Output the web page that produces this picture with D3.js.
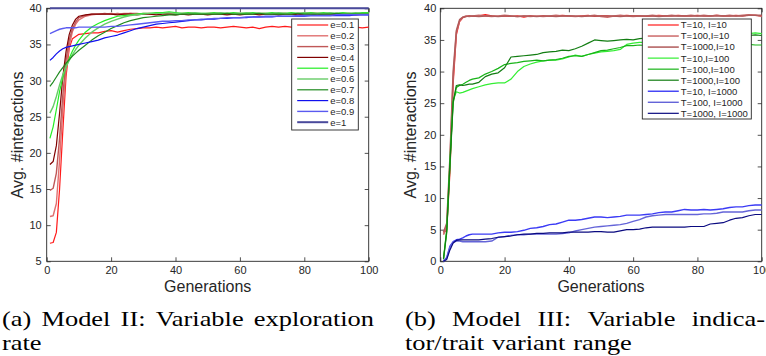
<!DOCTYPE html>
<html>
<head>
<meta charset="utf-8">
<script src="https://cdn.jsdelivr.net/npm/d3@7"></script>
<style>
  body { margin: 0; background: #fff; }
  svg { display: block; }
  .axis text, .lbl, .leg text { font-family: "Liberation Sans", Arial, sans-serif; fill: #262626; }
  .cap { font-family: "Liberation Serif", "Times New Roman", serif; fill: #000; }
</style>
</head>
<body>
<svg id="fig" width="766" height="356"></svg>
<script>
// generations sampled for both panels
const generations = [1,2,3,4,5,6,7,8,9,10,12,14,16,18,20,22,24,26,28,30,32,34,36,38,40,42,44,46,48,50,
  52,54,56,58,60,62,64,66,68,70,72,74,76,78,80,82,84,86,88,90,92,94,96,98,100];

// ---- panel (a): exploration rate e ----
const eLabels = ["e=0.1","e=0.2","e=0.3","e=0.4","e=0.5","e=0.6","e=0.7","e=0.8","e=0.9","e=1"];
const eColors = ["#ff1a1a","#e07070","#c05858","#800000","#22ee22","#66cc66","#1f8a1f","#1010ee","#5a5af0","#4a4a9c"];

const e01 = [7.5,7.6,9.0,15.0,23.0,30.5,34.5,35.8,36.1,36.4, 36.5,36.6,36.6,36.8,36.9,36.7,36.9,37.1,37.2,37.3,
  37.3,37.4,37.3,37.4,37.5,37.3,37.4,37.4,37.3,37.4, 37.4,37.3,37.4,37.5,37.4,37.3,37.4,37.2,37.4,37.5,
  37.4,37.5,37.4,37.3,37.4,37.4,37.5,37.6,37.4,37.3, 37.4,37.5,37.4,37.3,37.4];
const e02 = [11.2,11.3,13.0,19.0,26.0,31.5,34.8,36.8,37.8,38.4, 38.9,39.1,39.2,39.2,39.3,39.2,39.3,39.3,39.2,39.3,
  39.3,39.2,39.3,39.3,39.2,39.3,39.3,39.3,39.2,39.3, 39.3,39.3,39.2,39.3,39.3,39.2,39.3,39.3,39.3,39.2,
  39.3,39.3,39.2,39.3,39.3,39.4,39.3,39.3,39.2,39.3, 39.3,39.3,39.2,39.3,39.3];
const e03 = [14.8,15.1,17.2,22.0,28.0,32.8,35.6,37.2,38.1,38.7, 39.0,39.2,39.2,39.3,39.2,39.3,39.2,39.3,39.3,39.2,
  39.2,39.3,39.3,39.2,39.3,39.2,39.3,39.3,39.2,39.2, 39.3,39.2,39.3,39.2,39.2,39.3,39.3,39.2,39.2,39.3,
  39.2,39.3,39.2,39.2,39.3,39.2,39.3,39.2,39.3,39.2, 39.2,39.3,39.2,39.2,39.3];
const e04 = [18.4,18.8,21.0,25.5,30.5,34.0,36.4,37.7,38.5,38.9, 39.1,39.2,39.2,39.2,39.2,39.1,39.2,39.2,39.1,39.2,
  39.2,39.1,39.2,39.2,39.1,39.2,39.1,39.2,39.2,39.1, 39.2,39.2,39.1,39.2,39.1,39.2,39.2,39.1,39.2,39.2,
  39.1,39.2,39.2,39.1,39.2,39.2,39.1,39.2,39.2,39.1, 39.2,39.2,39.1,39.2,39.2];
const e05 = [22.0,23.6,26.0,28.5,30.4,31.9,33.1,34.1,34.9,35.6, 36.7,37.4,37.9,38.3,38.6,38.9,39.0,39.1,39.2,39.3,
  39.3,39.4,39.4,39.5,39.4,39.3,39.4,39.3,39.3,39.3, 39.4,39.3,39.3,39.4,39.3,39.3,39.4,39.3,39.3,39.4,
  39.3,39.3,39.4,39.3,39.3,39.4,39.3,39.4,39.3,39.3, 39.4,39.3,39.3,39.4,39.4];
const e06 = [25.5,26.4,27.8,29.4,30.8,31.9,32.8,33.6,34.3,34.9, 35.9,36.7,37.3,37.8,38.2,38.5,38.8,39.0,39.1,39.2,
  39.3,39.3,39.3,39.4,39.3,39.3,39.3,39.4,39.3,39.3, 39.3,39.4,39.3,39.3,39.3,39.4,39.3,39.3,39.3,39.3,
  39.4,39.3,39.3,39.3,39.4,39.3,39.3,39.3,39.4,39.3, 39.3,39.3,39.4,39.3,39.3];
const e07 = [29.2,29.8,30.5,31.2,31.8,32.4,32.9,33.4,33.8,34.2, 34.9,35.6,36.2,36.7,37.2,37.6,38.0,38.3,38.5,38.7,
  38.8,38.9,39.0,39.1,39.1,39.2,39.2,39.2,39.2,39.2, 39.2,39.2,39.3,39.2,39.2,39.2,39.2,39.3,39.2,39.2,
  39.2,39.2,39.2,39.3,39.2,39.2,39.2,39.2,39.2,39.3, 39.2,39.2,39.2,39.2,39.2];
const e08 = [32.8,33.2,33.7,34.1,34.4,34.6,34.7,34.8,34.9,35.0, 35.2,35.4,35.6,35.9,36.1,36.3,36.6,36.9,37.2,37.4,
  37.6,37.8,37.9,38.0,38.1,38.2,38.3,38.4,38.4,38.5, 38.5,38.6,38.6,38.7,38.7,38.7,38.8,38.8,38.8,38.8,
  38.9,38.9,38.9,38.9,38.9,39.0,39.0,39.0,39.0,39.0, 39.0,39.0,39.1,39.1,39.1];
const e09 = [36.5,36.7,36.9,37.1,37.2,37.3,37.3,37.3,37.3,37.4, 37.4,37.4,37.4,37.4,37.5,37.5,37.6,37.7,37.8,37.9,
  38.0,38.1,38.2,38.2,38.3,38.3,38.4,38.4,38.5,38.5, 38.6,38.6,38.7,38.7,38.7,38.8,38.8,38.8,38.9,38.9,
  38.9,38.9,38.9,39.0,39.0,39.0,39.0,39.0,39.0,39.1, 39.1,39.1,39.1,39.1,39.1];
const e10 = [40,40,40,40,40,40,40,40,40,40, 40,40,40,40,40,40,40,40,40,40, 40,40,40,40,40,40,40,40,40,40,
  40,40,40,40,40,40,40,40,40,40, 40,40,40,40,40,40,40,40,40,40, 40,40,40,40,40];
const eSeries = [e01,e02,e03,e04,e05,e06,e07,e08,e09,e10];
const eTicksY = [5,10,15,20,25,30,35,40];

// ---- panel (b): indicator / trait variant range ----
const tLabels = ["T=10, I=10","T=100,I=10","T=1000,I=10","T=10,I=100","T=100,I=100","T=1000,I=100",
  "T=10, I=1000","T=100, I=1000","T=1000, I=1000"];
const tColors = ["#ff1a1a","#cc6a6a","#b05a5a","#33ee33","#17b317","#127d12","#3b3bf5","#6464d8","#0a0a80"];

const t1 = [4.4,5.0,14.0,28.0,35.8,37.9,38.5,38.7,38.8,38.7, 38.8,39.0,38.8,38.7,38.8,38.7,38.8,38.6,38.8,38.7,
  38.8,38.7,38.8,38.9,38.8,38.7,38.8,38.9,38.7,38.8, 38.8,38.7,38.8,38.9,38.8,38.8,38.7,38.8,38.9,38.8,
  38.8,38.9,38.8,38.8,38.9,38.8,38.8,38.9,38.8,38.8, 38.9,38.8,38.9,38.9,38.8];
const t2 = [4.2,5.5,15.5,29.0,36.2,38.0,38.6,38.8,38.7,38.8, 38.9,38.8,38.7,38.8,38.9,38.8,38.7,38.8,38.7,38.8,
  38.7,38.8,38.9,38.8,38.8,38.7,38.8,38.8,38.9,38.7, 38.6,38.8,38.9,38.8,38.7,38.8,38.8,38.9,38.8,38.8,
  38.9,38.8,38.8,38.9,38.8,38.9,38.8,38.9,38.8,38.9, 38.8,38.9,39.0,38.9,38.7];
const t3 = [4.6,6.0,16.5,30.0,36.5,38.2,38.6,38.7,38.8,38.8, 38.7,38.8,38.8,38.7,38.8,38.8,38.7,38.8,38.8,38.7,
  38.8,38.8,38.7,38.8,38.8,38.8,38.7,38.8,38.8,38.8, 38.8,38.8,38.7,38.8,38.8,38.8,38.8,38.8,38.7,38.8,
  38.8,38.8,38.8,38.8,38.8,38.8,38.8,38.8,38.8,38.8, 38.8,38.8,38.9,38.9,38.9];
const t4 = [0.5,5.0,16.0,25.5,26.8,26.6,26.7,26.9,27.1,27.3, 27.6,27.9,28.1,28.2,28.2,28.8,30.0,30.8,31.2,31.5,
  31.7,31.8,31.8,32.0,32.3,32.6,32.4,32.7,32.9,33.1, 33.2,33.3,33.5,34.3,34.5,34.6,34.6,34.5,34.7,34.9,
  35.0,35.1,35.2,35.3,35.4,35.5,35.6,35.7,35.8,35.9, 35.9,36.0,36.0,36.1,36.0];
const t5 = [0.3,4.5,15.0,25.0,27.5,27.8,28.0,28.3,28.6,28.8, 29.0,29.6,30.0,30.5,31.1,31.3,31.4,31.6,31.7,31.8,
  31.7,31.8,31.9,32.1,32.4,32.5,32.4,32.7,33.0,33.3, 33.4,33.6,33.8,34.1,34.1,34.2,34.1,34.2,34.3,34.2,
  34.3,34.4,34.3,34.4,34.3,34.4,34.3,34.4,34.3,34.4, 34.3,34.2,34.3,34.2,34.2];
const t6 = [0.4,4.8,15.5,25.2,27.8,27.9,27.8,27.9,28.0,28.0, 28.3,29.2,29.6,29.8,30.6,32.3,32.4,32.5,32.6,32.7,
  33.0,33.1,33.2,33.4,33.3,33.6,34.0,34.5,35.0,34.9, 34.8,34.9,35.0,35.1,35.0,35.2,35.3,35.2,35.3,35.4,
  35.4,35.5,35.5,35.6,35.5,35.6,35.6,35.7,35.6,35.7, 35.7,35.8,35.7,35.8,35.7];
const t7 = [0.0,0.6,2.4,3.1,3.4,3.5,3.7,4.0,4.2,4.3, 4.3,4.3,4.3,4.5,4.6,4.6,4.7,4.9,5.2,5.3,
  5.5,5.8,5.9,6.2,6.5,6.5,6.6,6.8,7.0,7.0, 6.9,7.0,7.1,7.3,7.3,7.3,7.4,7.5,7.7,7.8,
  7.8,8.0,8.2,8.1,8.1,8.2,8.1,8.2,8.3,8.5, 8.6,8.6,8.8,8.9,8.9];
const t8 = [0.0,0.5,2.2,3.0,3.2,3.2,3.1,3.1,3.1,3.1, 3.1,3.1,3.2,3.8,3.9,4.1,4.2,4.2,4.3,4.3,
  4.3,4.3,4.3,4.4,4.5,4.8,5.0,5.2,5.4,5.5, 5.6,5.7,5.8,6.0,6.3,6.6,7.0,7.2,7.3,7.4,
  7.4,7.4,7.4,7.4,7.4,7.5,7.5,7.6,7.8,7.8, 7.8,7.8,8.0,8.1,8.1];
const t9 = [0.0,0.3,1.8,2.9,3.3,3.4,3.4,3.4,3.4,3.4, 3.4,3.5,3.6,3.8,3.9,4.0,4.2,4.3,4.3,4.4,
  4.4,4.5,4.5,4.5,4.6,4.6,4.6,4.6,4.7,4.7, 4.6,4.6,4.8,5.0,5.0,5.1,5.3,5.4,5.4,5.4,
  5.4,5.4,5.4,5.5,5.5,5.5,5.9,6.0,6.1,6.5, 6.8,6.9,7.2,7.4,7.4];
const tSeries = [t1,t2,t3,t4,t5,t6,t7,t8,t9];
const tTicksY = [0,5,10,15,20,25,30,35,40];

const genTicks = [0,20,40,60,80,100];

const svg = d3.select("#fig");
svg.append("rect").attr("width", 766).attr("height", 356).attr("fill", "#fff");

function drawPanel(p) {
  var x = d3.scaleLinear().domain([0, 100]).range([p.left, p.right]);
  var y = d3.scaleLinear().domain(p.yDomain).range([p.bottom, p.top]);
  var g = svg.append("g");

  // axes, MATLAB style: inward ticks on all four sides
  g.append("g").attr("class", "axis")
    .attr("transform", "translate(0," + p.bottom + ")")
    .call(d3.axisBottom(x).tickValues(genTicks).tickSizeInner(-4).tickSizeOuter(0).tickPadding(5));
  g.append("g").attr("class", "axis")
    .attr("transform", "translate(0," + p.top + ")")
    .call(d3.axisTop(x).tickValues(genTicks).tickSizeInner(-4).tickSizeOuter(0).tickFormat(""));
  g.append("g").attr("class", "axis")
    .attr("transform", "translate(" + p.left + ",0)")
    .call(d3.axisLeft(y).tickValues(p.yTicks).tickSizeInner(-4).tickSizeOuter(0).tickPadding(p.yPad));
  g.append("g").attr("class", "axis")
    .attr("transform", "translate(" + p.right + ",0)")
    .call(d3.axisRight(y).tickValues(p.yTicks).tickSizeInner(-4).tickSizeOuter(0).tickFormat(""));

  g.selectAll(".axis .domain").remove();
  g.selectAll(".axis line").attr("stroke", "#262626").attr("stroke-width", 0.8);
  g.selectAll(".axis text").attr("font-size", 11);

  g.append("rect")
    .attr("x", p.left).attr("y", p.top)
    .attr("width", p.right - p.left).attr("height", p.bottom - p.top)
    .attr("fill", "none").attr("stroke", "#262626").attr("stroke-width", 0.9);

  var line = d3.line()
    .x(function(d, i) { return x(generations[i]); })
    .y(function(d) { return y(d); });

  p.series.forEach(function(s, i) {
    g.append("path")
      .datum(s)
      .attr("fill", "none")
      .attr("stroke", p.colors[i])
      .attr("stroke-width", p.widths ? p.widths[i] : 1.2)
      .attr("stroke-linejoin", "round")
      .attr("d", line);
  });

  // axis labels
  g.append("text").attr("class", "lbl")
    .attr("x", (p.left + p.right) / 2).attr("y", 292)
    .attr("text-anchor", "middle").attr("font-size", 16)
    .text("Generations");
  g.append("text").attr("class", "lbl")
    .attr("transform", "translate(" + p.yLabelX + ",135) rotate(-90)")
    .attr("text-anchor", "middle").attr("font-size", 16)
    .text("Avg. #interactions");

  // legend
  var leg = g.append("g").attr("class", "leg");
  leg.append("rect")
    .attr("x", p.leg.x).attr("y", p.leg.y)
    .attr("width", p.leg.w).attr("height", p.leg.h)
    .attr("fill", "#fff").attr("stroke", "#262626").attr("stroke-width", 0.9);
  p.labels.forEach(function(lab, i) {
    var ry = p.leg.y + 6 + i * p.leg.step;
    leg.append("line")
      .attr("x1", p.leg.x + 5.5).attr("x2", p.leg.x + 36.5)
      .attr("y1", ry).attr("y2", ry)
      .attr("stroke", p.colors[i])
      .attr("stroke-width", p.widths ? p.widths[i] : 1.2);
    leg.append("text")
      .attr("x", p.leg.x + 38.5).attr("y", ry + 3.4)
      .attr("font-size", 9.5)
      .text(lab);
  });
}

drawPanel({
  left: 46.7, right: 368.7, top: 8.3, bottom: 261.3,
  yDomain: [5, 40], yTicks: eTicksY, yPad: 5, yLabelX: 23,
  series: eSeries, colors: eColors, labels: eLabels,
  widths: [1.2,1.4,1.4,1.2,1.2,1.4,1.2,1.2,1.4,2],
  leg: { x: 291.7, y: 19, w: 66.6, h: 111, step: 10.8 }
});

drawPanel({
  left: 440.3, right: 761.7, top: 8.3, bottom: 261.3,
  yDomain: [0, 40], yTicks: tTicksY, yPad: 4, yLabelX: 416,
  series: tSeries, colors: tColors, labels: tLabels,
  widths: [1.2,1.5,1.5,1.2,1.2,1.2,1.4,1.4,1.2],
  leg: { x: 642.3, y: 19, w: 109, h: 100, step: 11.04 }
});

// ---- captions (serif, justified first line) ----
const capSize = 22, capStretch = 1.2;

function captionLine(words, x0, x1, baseline, justify) {
  var g = svg.append("g")
    .attr("transform", "translate(" + x0 + "," + baseline + ") scale(" + capStretch + ",1)");
  var nodes = words.map(function(w) {
    return g.append("text").attr("class", "cap").attr("font-size", capSize).text(w);
  });
  var widths = nodes.map(function(n) { return n.node().getComputedTextLength(); });
  var total = d3.sum(widths);
  var gap = justify ? ((x1 - x0) / capStretch - total) / (words.length - 1) : capSize * 0.3;
  var cx = 0;
  nodes.forEach(function(n, i) {
    n.attr("x", cx);
    cx += widths[i] + gap;
  });
}

captionLine(["(a)", "Model", "II:", "Variable", "exploration"], 2, 374, 326, true);
captionLine(["rate"], 2, 374, 350, false);
captionLine(["(b)", "Model", "III:", "Variable", "indica-"], 405, 765, 326, true);
captionLine(["tor/trait", "variant", "range"], 405, 765, 350, false);
</script>
</body>
</html>
